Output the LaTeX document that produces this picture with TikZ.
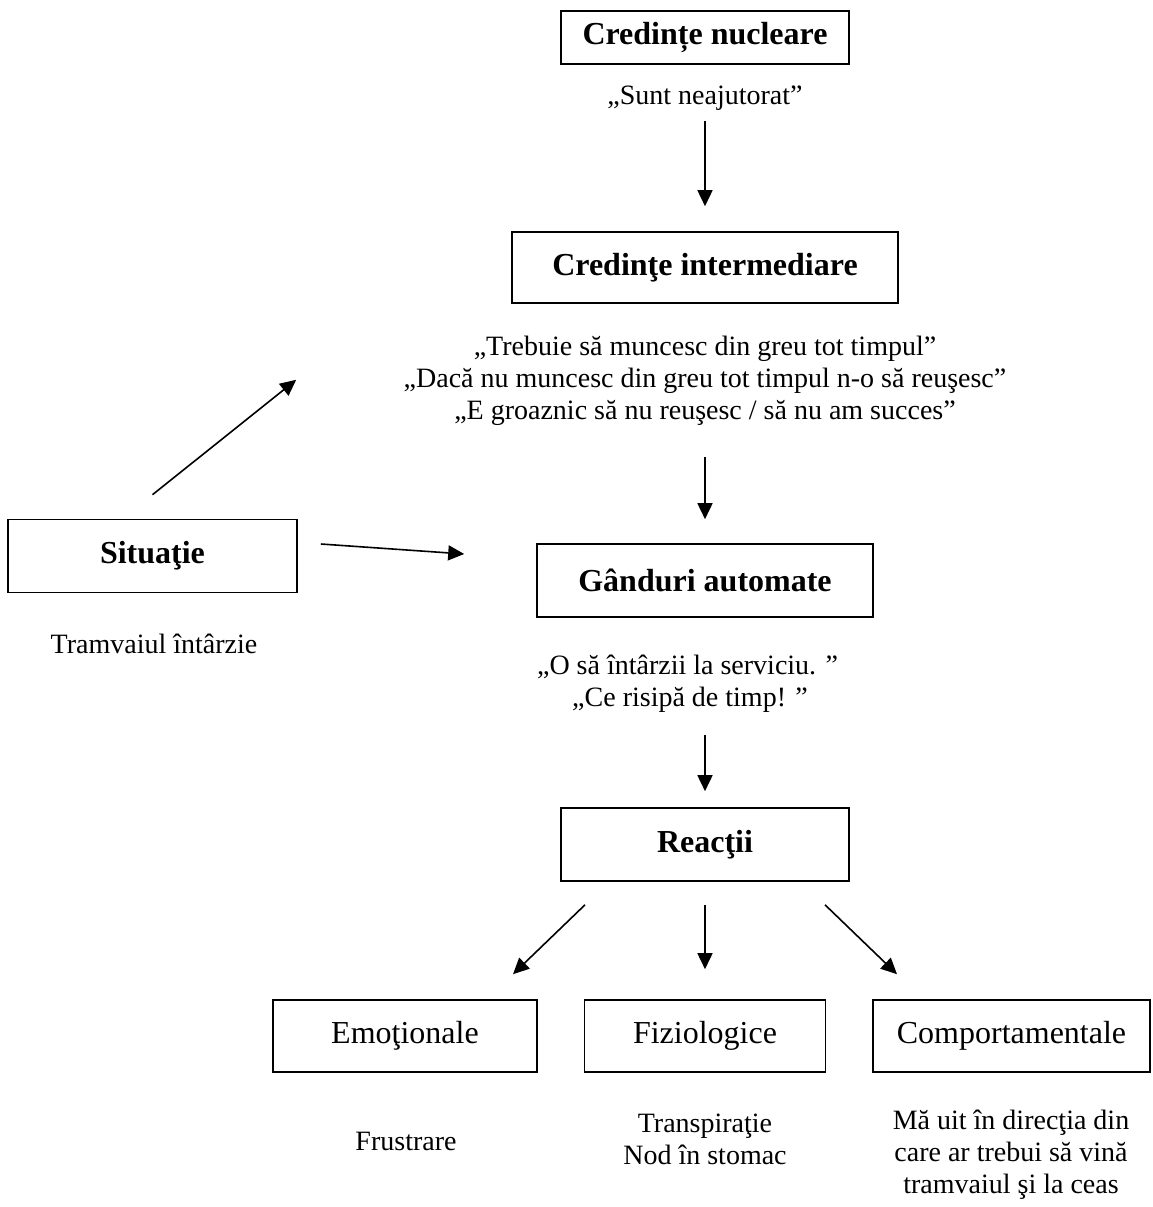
\documentclass[tikz,border=0pt]{standalone}
\usepackage{fontspec}
\setmainfont{Liberation Serif}
\usetikzlibrary{arrows.meta}
\tikzset{
  boxnode/.style={draw, line width=1.6pt, inner sep=0pt, font=\fontsize{32}{37}\selectfont},
  headbox/.style={boxnode, font=\fontsize{32}{37}\selectfont\bfseries},
  note/.style={inner sep=0pt, align=center, font=\fontsize{28}{32}\selectfont},
  arr/.style={line width=1.6pt, -{Triangle[length=16pt,width=15pt]}}
}
\begin{document}
\begin{tikzpicture}[x=1pt,y=-1pt]
\useasboundingbox[fill=white] (0,0) rectangle (1152,1207);
% boxes
\node[headbox, minimum width=288pt, minimum height=53pt] (n1) at (705,37.5) {Credințe nucleare};
\node[headbox, minimum width=386pt, minimum height=71pt] (n2) at (705,267.5) {Credinţe intermediare};
\node[headbox, minimum width=289pt, minimum height=73pt] (sit) at (152.5,556) {Situaţie};
\node[headbox, minimum width=336pt, minimum height=73pt] (gand) at (705,580.5) {Gânduri automate};
\node[headbox, minimum width=288pt, minimum height=73pt] (reac) at (705,844.5) {Reacţii};
\node[boxnode, minimum width=264pt, minimum height=72pt] (emo) at (405,1036) {Emoţionale};
\node[boxnode, minimum width=241pt, minimum height=72pt] (fiz) at (705,1036) {Fiziologice};
\node[boxnode, minimum width=277pt, minimum height=72pt] (comp) at (1011.5,1036) {Comportamentale};
% notes
\node[note] (s1) at (705,98) {„Sunt neajutorat”};
\node[note] (inter) at (705,380.5) {„Trebuie să muncesc din greu tot timpul”\\„Dacă nu muncesc din greu tot timpul n-o să reuşesc”\\„E groaznic să nu reuşesc / să nu am succes”};
\node[note] (tram) at (154,644) {Tramvaiul întârzie};
\node[note] (g1) at (687.5,666.5) {„O să întârzii la serviciu. ”};
\node[note] (g2) at (690,700) {„Ce risipă de timp! ”};
\node[note] (frus) at (406,1141) {Frustrare};
\node[note] (fizn) at (705,1139.5) {Transpiraţie\\Nod în stomac};
\node[note] (compn) at (1011,1155) {Mă uit în direcţia din\\care ar trebui să vină\\tramvaiul şi la ceas};
% arrows
\draw[arr] ([yshift=110pt]n2.north) -- ([yshift=25pt]n2.north);
\draw[arr] ([yshift=86pt]gand.north) -- ([yshift=24pt]gand.north);
\draw[arr] ([yshift=24pt]sit.north) -- ([xshift=-215pt,yshift=-76pt]n2.south west);
\draw[arr] ([xshift=23pt,yshift=12pt]sit.east) -- ([xshift=-72pt,yshift=26.5pt]gand.west);
\draw[arr] ([yshift=72pt]reac.north) -- ([yshift=16pt]reac.north);
\draw[arr] ([xshift=-120pt,yshift=-23pt]reac.south) -- ([xshift=108pt,yshift=25pt]emo.north);
\draw[arr] ([yshift=-23pt]reac.south) -- ([yshift=30pt]fiz.north);
\draw[arr] ([xshift=120pt,yshift=-23pt]reac.south) -- ([xshift=-114.5pt,yshift=25pt]comp.north);
\end{tikzpicture}
\end{document}
